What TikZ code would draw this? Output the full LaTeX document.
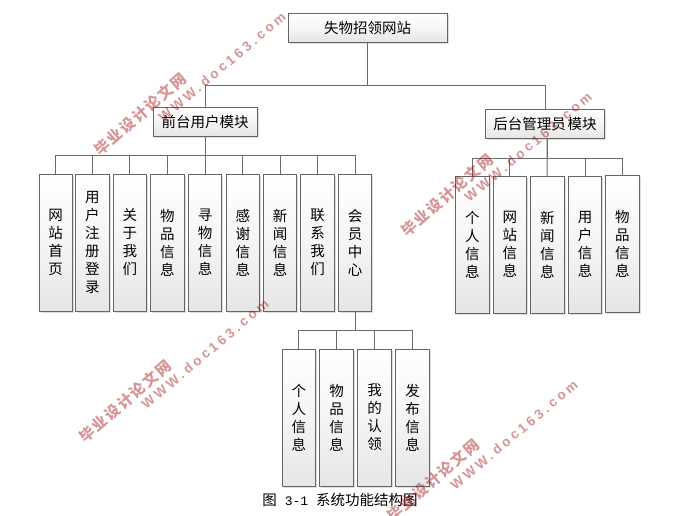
\documentclass[tikz,border=0pt]{standalone}
\usepackage{fontspec}
\setmainfont{Noto Sans CJK SC}
\setmonofont{Liberation Mono}
\newfontfamily\wwwfont[LetterSpace=24]{Liberation Sans}
\newfontfamily\wmfont[LetterSpace=12]{Noto Sans CJK SC}
\usetikzlibrary{shadows}
\tikzstyle{boxbase} = [draw=black!60, line width=1pt, top color=white, bottom color=black!10, middle color=white!96!black, drop shadow={shadow xshift=1.6pt, shadow yshift=-1.6pt, fill=black!22, opacity=0.6}, font={\fontsize{14.5}{18}\selectfont}, inner sep=0pt, align=center]
\tikzstyle{wide} = [boxbase, minimum height=29pt]
\tikzstyle{tall} = [boxbase, minimum width=33.5pt, minimum height=137pt]
\tikzstyle{link} = [draw=black!58, line width=1pt]
\tikzstyle{wmark} = [color=red!62!black, opacity=0.42, font={\wmfont\bfseries\fontsize{15}{16}\selectfont}, rotate=41, inner sep=0pt]
\tikzstyle{wsite} = [color=red!62!black, opacity=0.42, font={\wwwfont\bfseries\fontsize{13.5}{15}\selectfont}, rotate=40, inner sep=0pt]

\begin{document}
\begin{tikzpicture}[x=1pt,y=-1pt]
    \useasboundingbox (0,0) rectangle (686,515);
    \node[wide,minimum width=159pt](site) at (367.5,28){失物招领网站};
    \node[wide,minimum width=104pt](front) at (205,121.5){前台用户模块};
    \node[wide,minimum width=119pt](back) at (545,123.5){后台管理员\kern2pt 模块};

    \node[tall](home) at (55.75,242.5){网\\站\\首\\页};
    \node[tall](signup) at (92.25,242.5){用\\户\\注\\册\\登\\录};
    \node[tall](about) at (129.75,242.5){关\\于\\我\\们};
    \node[tall](goods) at (167.25,242.5){物\\品\\信\\息};
    \node[tall](seek) at (205,242.5){寻\\物\\信\\息};
    \node[tall](thanks) at (242.75,242.5){感\\谢\\信\\息};
    \node[tall](news) at (280,242.5){新\\闻\\信\\息};
    \node[tall](contact) at (317.5,242.5){联\\系\\我\\们};
    \node[tall](member) at (355,242.5){会\\员\\中\\心};

    \node[tall](bprofile) at (472.25,244.5){个\\人\\信\\息};
    \node[tall](bsite) at (509.75,244.5){网\\站\\信\\息};
    \node[tall](bnews) at (547.25,244.5){新\\闻\\信\\息};
    \node[tall](buser) at (585,244.5){用\\户\\信\\息};
    \node[tall](bgoods) at (622.25,243.5){物\\品\\信\\息};

    \node[tall](mprofile) at (298.75,417.5){个\\人\\信\\息};
    \node[tall](mgoods) at (336.5,417.5){物\\品\\信\\息};
    \node[tall](mclaim) at (374.5,417.5){我\\的\\认\\领};
    \node[tall](mpost) at (412.5,417.5){发\\布\\信\\息};

    \node[font={\fontsize{14.5}{16}\selectfont}](caption) at (340,500){图{\ttfamily\fontsize{13}{16}\selectfont\ 3-1\ }系统功能结构图};

    \draw[link](site.south)--++(0,42)-|(front.north);
    \draw[link](site.south)--++(0,42)-|(back.north);

    \draw[link](front.south)--++(0,19)-|(home.north);
    \draw[link](front.south)--++(0,19)-|(signup.north);
    \draw[link](front.south)--++(0,19)-|(about.north);
    \draw[link](front.south)--++(0,19)-|(goods.north);
    \draw[link](front.south)--(seek.north);
    \draw[link](front.south)--++(0,19)-|(thanks.north);
    \draw[link](front.south)--++(0,19)-|(news.north);
    \draw[link](front.south)--++(0,19)-|(contact.north);
    \draw[link](front.south)--++(0,19)-|(member.north);

    \draw[link](back.south)++(2,0)--++(0,19.5)-|(bprofile.north);
    \draw[link](back.south)++(2,0)--++(0,19.5)-|(bsite.north);
    \draw[link](back.south)++(2,0)--(bnews.north);
    \draw[link](back.south)++(2,0)--++(0,19.5)-|(buser.north);
    \draw[link](back.south)++(2,0)--++(0,19.5)-|(bgoods.north);

    \draw[link](member.south)--++(0,19)-|(mprofile.north);
    \draw[link](member.south)--++(0,19)-|(mgoods.north);
    \draw[link](member.south)--++(0,19)-|(mclaim.north);
    \draw[link](member.south)--++(0,19)-|(mpost.north);

    % watermarks
    \node[wmark](mark1) at (140,114){毕业设计论文网};
    \node[wsite](site1) at (222,67){WWW.doc163.com};
    \node[wmark](mark2) at (447,195){毕业设计论文网};
    \node[wsite](site2) at (528,147){WWW.doc163.com};
    \node[wmark](mark3) at (125,401){毕业设计论文网};
    \node[wsite](site3) at (205,354){WWW.doc163.com};
    \node[wmark](mark4) at (433,480){毕业设计论文网};
    \node[wsite](site4) at (514,435){WWW.doc163.com};
\end{tikzpicture}
\end{document}
